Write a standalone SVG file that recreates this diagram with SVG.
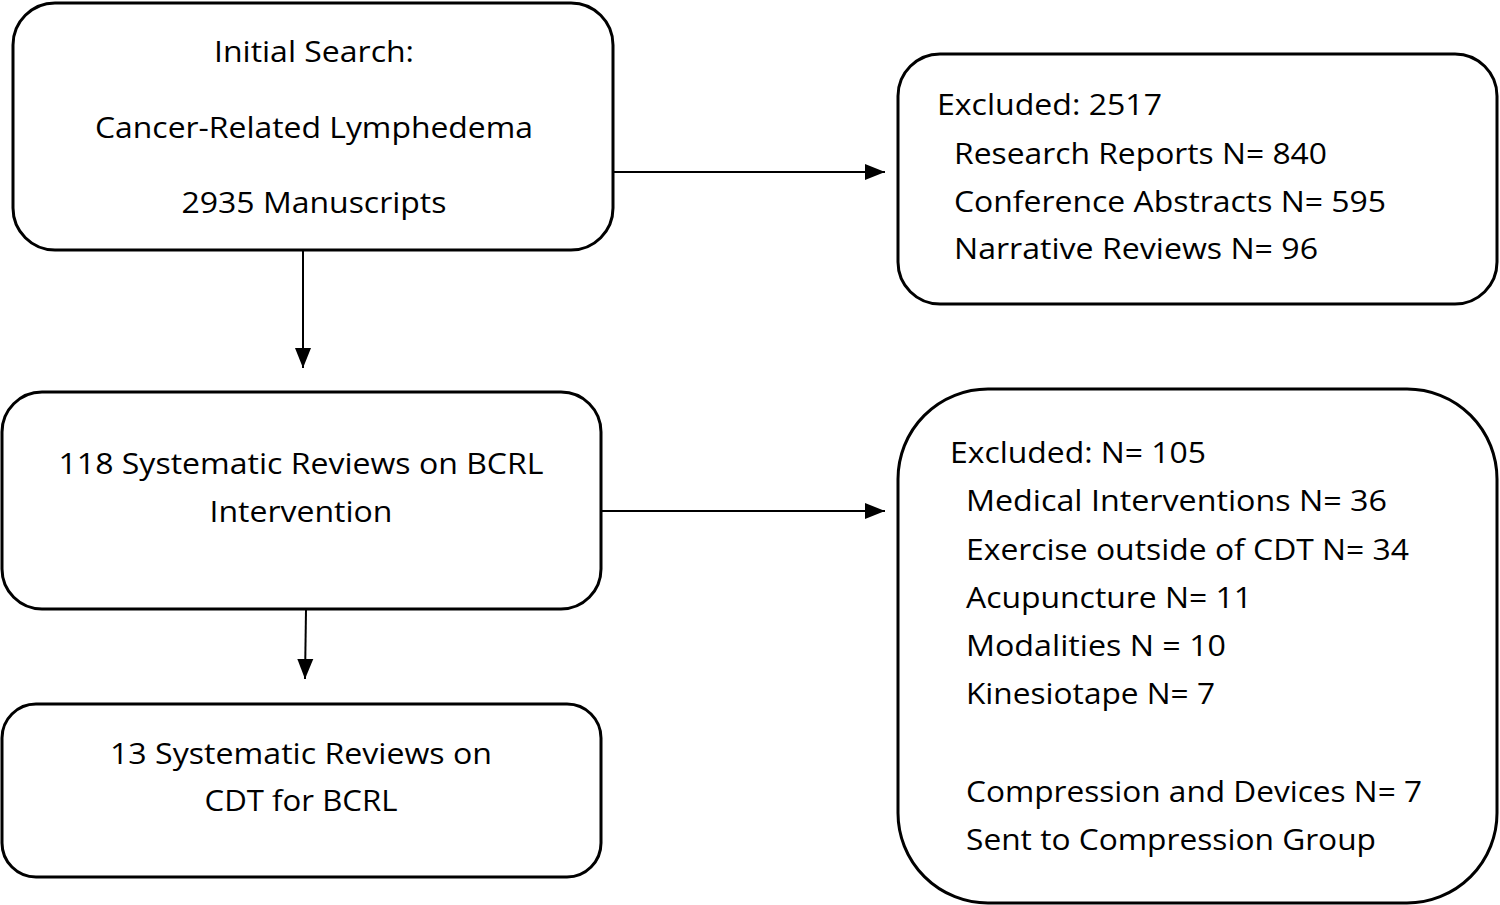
<svg xmlns="http://www.w3.org/2000/svg" width="1500" height="905" viewBox="0 0 1500 905">
<style>
.box{fill:#fff;stroke:#000;stroke-width:3}
.t{font-family:"Open Sans","Noto Sans",sans-serif;font-size:29px;fill:#000}
.c{text-anchor:middle}
.conn{stroke:#000;stroke-width:2;fill:none}
</style>
<defs>
<marker id="ah" markerUnits="userSpaceOnUse" markerWidth="20" markerHeight="20" refX="20" refY="10" orient="auto">
<path d="M0,2 L20,10 L0,18 Z" fill="#000"/>
</marker>
</defs>
<rect width="1500" height="905" fill="#fff"/>
<g id="connectors">
<line class="conn" x1="303" y1="251" x2="303" y2="368" marker-end="url(#ah)"/>
<line class="conn" x1="610" y1="172" x2="885" y2="172" marker-end="url(#ah)"/>
<line class="conn" x1="602" y1="511" x2="885" y2="511" marker-end="url(#ah)"/>
<line class="conn" x1="306" y1="610" x2="305" y2="679" marker-end="url(#ah)"/>
</g>
<g id="initial-search">
<rect class="box" x="13" y="3" width="600" height="247" rx="42"/>
<text class="t c" x="314" y="62" textLength="200" lengthAdjust="spacingAndGlyphs">Initial Search:</text>
<text class="t c" x="314" y="138" textLength="438" lengthAdjust="spacingAndGlyphs">Cancer-Related Lymphedema</text>
<text class="t c" x="314" y="213" textLength="265" lengthAdjust="spacingAndGlyphs">2935 Manuscripts</text>
</g>
<g id="excluded-1">
<rect class="box" x="898" y="54" width="599" height="250" rx="42"/>
<text class="t" x="937" y="115" textLength="225" lengthAdjust="spacingAndGlyphs">Excluded: 2517</text>
<text class="t" x="954" y="164" textLength="373" lengthAdjust="spacingAndGlyphs">Research Reports N= 840</text>
<text class="t" x="954" y="212" textLength="432" lengthAdjust="spacingAndGlyphs">Conference Abstracts N= 595</text>
<text class="t" x="954" y="259" textLength="364" lengthAdjust="spacingAndGlyphs">Narrative Reviews N= 96</text>
</g>
<g id="bcrl-intervention">
<rect class="box" x="2" y="392" width="599" height="217" rx="40"/>
<text class="t c" x="301" y="474" textLength="485" lengthAdjust="spacingAndGlyphs">118 Systematic Reviews on BCRL</text>
<text class="t c" x="301" y="522" textLength="183" lengthAdjust="spacingAndGlyphs">Intervention</text>
</g>
<g id="cdt-for-bcrl">
<rect class="box" x="2" y="704" width="599" height="173" rx="34"/>
<text class="t c" x="301" y="764" textLength="382" lengthAdjust="spacingAndGlyphs">13 Systematic Reviews on</text>
<text class="t c" x="301" y="811" textLength="193" lengthAdjust="spacingAndGlyphs">CDT for BCRL</text>
</g>
<g id="excluded-2">
<rect class="box" x="898" y="389" width="599" height="514" rx="90"/>
<text class="t" x="950" y="463" textLength="256" lengthAdjust="spacingAndGlyphs">Excluded: N= 105</text>
<text class="t" x="966" y="511" textLength="421" lengthAdjust="spacingAndGlyphs">Medical Interventions N= 36</text>
<text class="t" x="966" y="560" textLength="443" lengthAdjust="spacingAndGlyphs">Exercise outside of CDT N= 34</text>
<text class="t" x="966" y="608" textLength="286" lengthAdjust="spacingAndGlyphs">Acupuncture N= 11</text>
<text class="t" x="966" y="656" textLength="260" lengthAdjust="spacingAndGlyphs">Modalities N = 10</text>
<text class="t" x="966" y="704" textLength="249" lengthAdjust="spacingAndGlyphs">Kinesiotape N= 7</text>
<text class="t" x="966" y="802" textLength="456" lengthAdjust="spacingAndGlyphs">Compression and Devices N= 7</text>
<text class="t" x="966" y="850" textLength="410" lengthAdjust="spacingAndGlyphs">Sent to Compression Group</text>
</g>
</svg>
